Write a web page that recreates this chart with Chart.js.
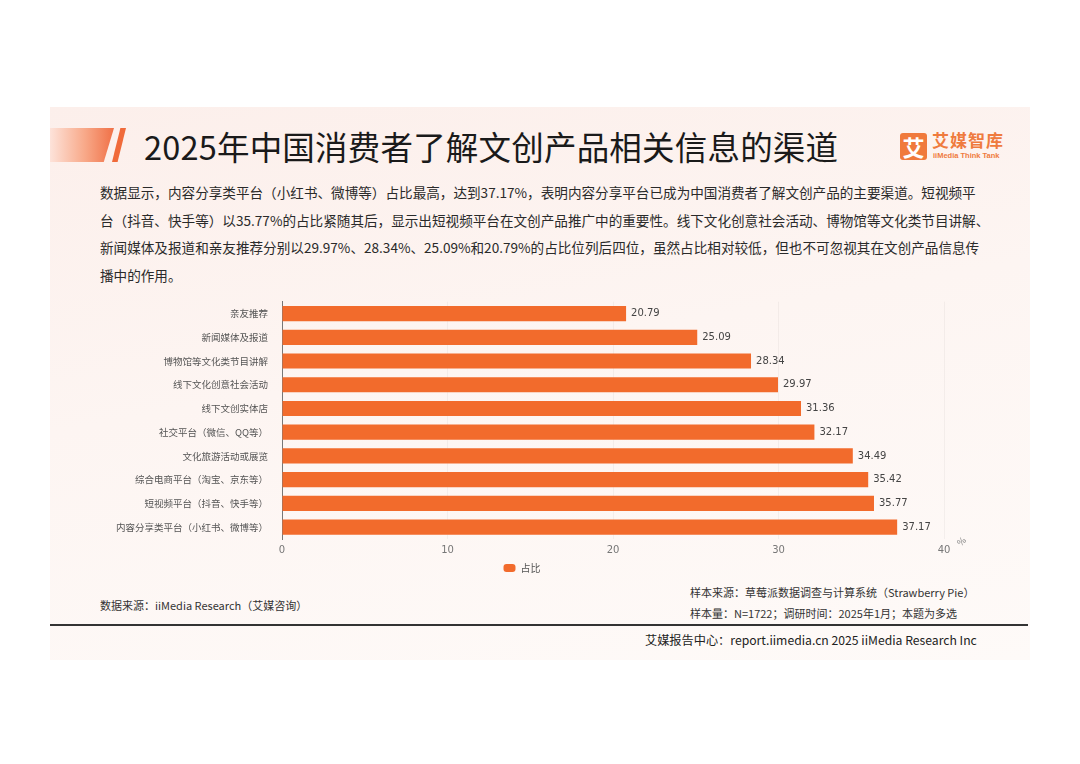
<!DOCTYPE html>
<html lang="zh-CN">
<head>
<meta charset="utf-8">
<script src="https://cdn.jsdelivr.net/npm/chart.js@4.4.1/dist/chart.umd.min.js"></script>
<style>
  html, body { margin:0; padding:0; background:#ffffff; }
  body { width:1080px; height:764px; position:relative; overflow:hidden;
         font-family:"Noto Sans CJK SC","Noto Sans",sans-serif; color:#222; }
  #card { position:absolute; left:50px; top:107px; width:980px; height:553px;
          background:linear-gradient(170deg,#fcefeb 0%,#fdf5f2 45%,#fefaf8 100%); }
  #deco { position:absolute; left:50px; top:128px; width:64px; height:34px;
          background:linear-gradient(90deg,#fde3da 0%,#f8a888 55%,#f07046 100%);
          clip-path:polygon(0 0,100% 0,84% 100%,0 100%); }
  #slash { position:absolute; left:112px; top:128px; width:14px; height:34px;
           background:#f06a3a; clip-path:polygon(60% 0,100% 0,40% 100%,0 100%); }
  #title { position:absolute; left:144px; top:126px; font-size:32.5px; line-height:40px;
           color:#1a1a1a; white-space:nowrap; letter-spacing:0.2px; }
  #logoBox { position:absolute; left:900px; top:133px; width:27px; height:27px;
             background:#f07a3c; border-radius:3px; color:#fff; font-size:22px;
             line-height:27px; text-align:center; font-weight:bold; }
  #logoTxt { position:absolute; left:932px; top:130px; color:#ef7b3e; font-size:17px;
             font-weight:bold; line-height:20px; letter-spacing:1px; }
  #logoSub { position:absolute; left:933px; top:151px; color:#ef7b3e; font-size:7.5px;
             font-weight:bold; line-height:9px; font-family:"Liberation Sans",sans-serif; }
  #para { position:absolute; left:100px; top:179px; font-size:13.6px; line-height:27.5px;
          color:#2a2a2a; white-space:nowrap; }
  #chartWrap { position:absolute; left:100px; top:290px; width:880px; height:293px; }
  .foot { position:absolute; font-size:11px; color:#333; white-space:nowrap; line-height:16px; }
  #rule { position:absolute; left:50px; top:624px; width:978px; height:2px; background:#333; }
</style>
</head>
<body>
<div id="card"></div>
<div id="deco"></div>
<div id="slash"></div>
<div id="title">2025年中国消费者了解文创产品相关信息的渠道</div>
<div id="logoBox">艾</div>
<div id="logoTxt">艾媒智库</div>
<div id="logoSub">iiMedia Think Tank</div>
<div id="para">数据显示，内容分享类平台（小红书、微博等）占比最高，达到37.17%，表明内容分享平台已成为中国消费者了解文创产品的主要渠道。短视频平<br>台（抖音、快手等）以35.77%的占比紧随其后，显示出短视频平台在文创产品推广中的重要性。线下文化创意社会活动、博物馆等文化类节目讲解、<br>新闻媒体及报道和亲友推荐分别以29.97%、28.34%、25.09%和20.79%的占比位列后四位，虽然占比相对较低，但也不可忽视其在文创产品信息传<br>播中的作用。</div>
<div id="chartWrap"><canvas id="c"></canvas></div>
<div class="foot" style="left:100px;top:597px;">数据来源：iiMedia Research（艾媒咨询）</div>
<div class="foot" style="left:690px;top:584px;">样本来源：草莓派数据调查与计算系统（Strawberry Pie）</div>
<div class="foot" style="left:690px;top:605px;">样本量：N=1722；调研时间：2025年1月；本题为多选</div>
<div id="rule"></div>
<div class="foot" style="left:645px;top:632px;font-size:12.2px;color:#222;">艾媒报告中心：report.iimedia.cn 2025 iiMedia Research Inc</div>
<script>
const categories = [
  "亲友推荐",
  "新闻媒体及报道",
  "博物馆等文化类节目讲解",
  "线下文化创意社会活动",
  "线下文创实体店",
  "社交平台（微信、QQ等）",
  "文化旅游活动或展览",
  "综合电商平台（淘宝、京东等）",
  "短视频平台（抖音、快手等）",
  "内容分享类平台（小红书、微博等）"
];
const shareValues = [20.79, 25.09, 28.34, 29.97, 31.36, 32.17, 34.49, 35.42, 35.77, 37.17];
const seriesName = "占比";
const xTicks = [0, 10, 20, 30, 40];
const unitLabel = "%";

const barColor = "#f26b2c";

const valueLabels = {
  id: "valueLabels",
  afterDatasetsDraw(chart) {
    const ctx = chart.ctx;
    const meta = chart.getDatasetMeta(0);
    ctx.save();
    ctx.font = "10px 'DejaVu Sans', sans-serif";
    ctx.fillStyle = "#444";
    ctx.textAlign = "left";
    ctx.textBaseline = "middle";
    meta.data.forEach((bar, i) => {
      ctx.fillText(shareValues[i].toFixed(2), bar.x + 5, bar.y);
    });
    const xs = chart.scales.x;
    ctx.font = "9px 'DejaVu Sans', sans-serif";
    ctx.fillStyle = "#888";
    ctx.translate(xs.right + 18, xs.top + 3);
    ctx.rotate(-Math.PI / 4);
    ctx.textAlign = "center";
    ctx.fillText(unitLabel, 0, 0);
    ctx.restore();
  }
};

new Chart(document.getElementById("c"), {
  type: "bar",
  data: {
    labels: categories,
    datasets: [{
      label: seriesName,
      data: shareValues,
      backgroundColor: barColor,
      borderWidth: 0,
      barPercentage: 0.64,
      categoryPercentage: 1.0
    }]
  },
  options: {
    indexAxis: "y",
    responsive: true,
    maintainAspectRatio: false,
    animation: false,
    layout: { padding: { top: 0, right: 36, left: 0, bottom: 0 } },
    scales: {
      x: {
        min: 0, max: 40,
        afterBuildTicks(scale) { scale.ticks = xTicks.map(v => ({ value: v })); },
        afterFit(scale) { scale.height = 18; },
        border: { display: false },
        grid: { color: "rgba(0,0,0,0.04)", drawTicks: false },
        ticks: { color: "#777", font: { size: 10, family: "'DejaVu Sans', sans-serif" }, padding: 5 }
      },
      y: {
        afterFit(scale) { scale.width = 182; },
        border: { display: true, color: "#777", width: 1 },
        grid: { display: false },
        ticks: { color: "#555", font: { size: 9.5, family: "'Noto Sans CJK SC', sans-serif" }, padding: 6 }
      }
    },
    plugins: {
      legend: {
        position: "bottom",
        labels: {
          boxWidth: 12, boxHeight: 8, useBorderRadius: true, borderRadius: 3,
          color: "#555", font: { size: 10, family: "'Noto Sans CJK SC', sans-serif" }, padding: 6
        }
      },
      tooltip: { enabled: false }
    }
  },
  plugins: [valueLabels]
});
</script>
</body>
</html>
